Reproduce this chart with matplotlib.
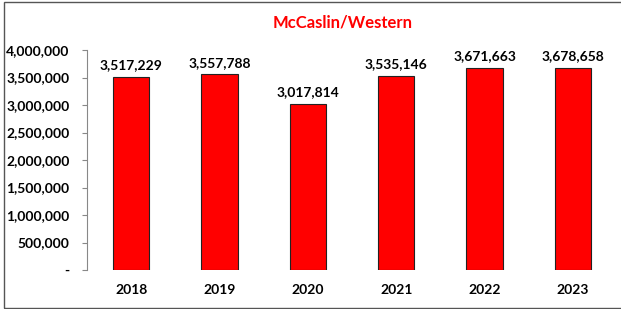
import matplotlib.pyplot as plt
from matplotlib.ticker import FuncFormatter

years = ["2018", "2019", "2020", "2021", "2022", "2023"]
values = [3517229, 3557788, 3017814, 3535146, 3671663, 3678658]
yticks = [0, 500000, 1000000, 1500000, 2000000, 2500000, 3000000, 3500000, 4000000]

plt.rcParams["font.family"] = ["Lato", "DejaVu Sans"]

fig = plt.figure(figsize=(6.21, 3.09), dpi=100)
ax = fig.add_axes([87 / 621, 39 / 309, 530 / 621, 220 / 309])

x = range(len(years))
ax.bar(x, values, width=0.41, color="#ff0000", edgecolor="#222222", linewidth=0.8)
for i, v in enumerate(values):
    ax.text(i, v + 100000, f"{v:,}", ha="center", va="bottom",
            fontsize=10, fontweight="bold")

ax.set_xlim(-0.5, 5.5)
ax.set_ylim(0, 4000000)
ax.set_xticks(list(x))
ax.set_xticklabels(years, fontsize=10, fontweight="bold")
ax.set_yticks(yticks)
ax.yaxis.set_major_formatter(FuncFormatter(lambda v, p: "-" if v == 0 else f"{int(v):,}"))
for lbl in ax.get_yticklabels():
    lbl.set_fontweight("bold")
    lbl.set_fontsize(10)
ax.tick_params(axis="x", length=0, pad=10)
ax.tick_params(axis="y", length=3.6, color="#888888", pad=9)
for s in ["top", "right", "bottom"]:
    ax.spines[s].set_visible(False)
ax.spines["left"].set_color("#888888")

fig.text(343 / 621, 1 - 23 / 309, "McCaslin/Western", ha="center", va="center",
         color="#ff0000", fontsize=12, fontweight="bold")

# outer frame
fig.patches.append(plt.Rectangle((4 / 621, 1 / 309), 1.0, 306 / 309,
                                 transform=fig.transFigure, fill=False,
                                 edgecolor="#555555", linewidth=1))

fig.savefig("out.png", dpi=100)
